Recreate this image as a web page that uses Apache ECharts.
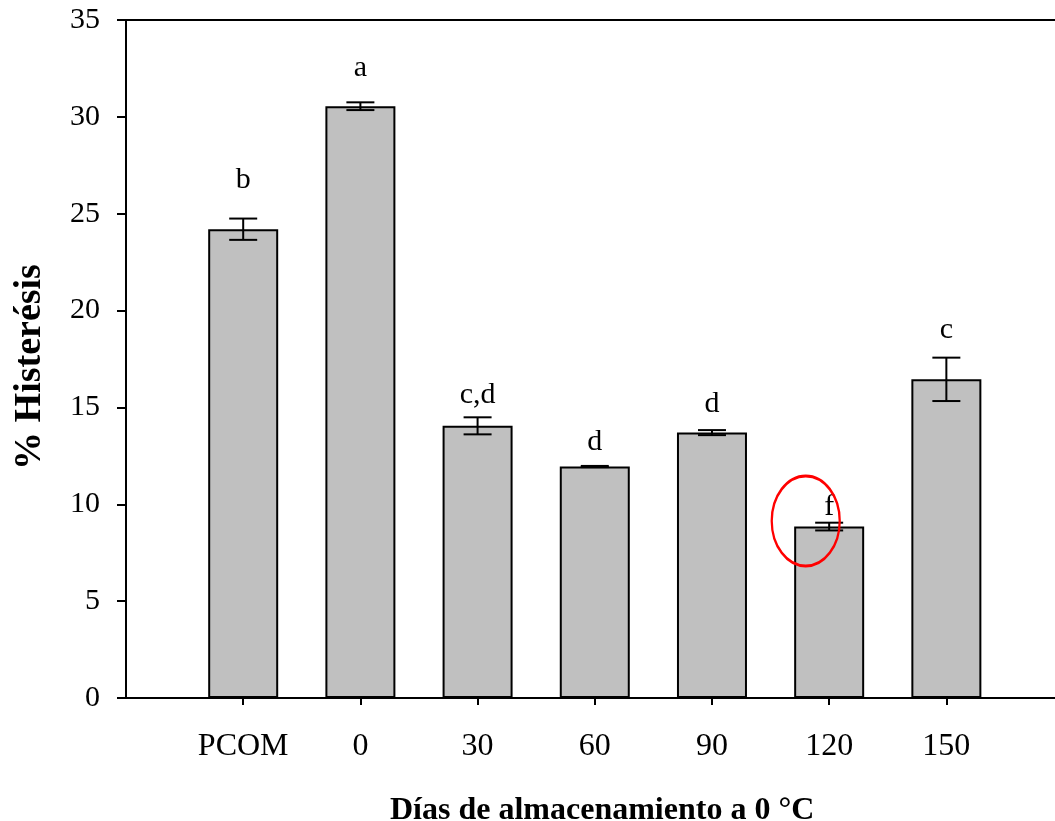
<!DOCTYPE html>
<html>
<head>
<meta charset="utf-8">
<script src="https://cdn.jsdelivr.net/npm/echarts@6/dist/echarts.min.js"></script>
<style>html,body{margin:0;padding:0;background:#fff;}#c{width:1055px;height:821px;}</style>
</head>
<body>
<div id="c"></div>
<script>
const categories = ['PCOM', '0', '30', '60', '90', '120', '150'];
const means = [24.2, 30.55, 14.05, 11.95, 13.7, 8.85, 16.45];
const errors = [0.55, 0.2, 0.44, 0.03, 0.13, 0.2, 1.12];
const letters = ['b', 'a', 'c,d', 'd', 'd', 'f', 'c'];
const letterPos = [26.3, 32.1, 15.2, 12.8, 14.75, 9.45, 18.6];
const highlightCenter = [4.8, 9.14];
const yTitle = '% Histerésis';
const xTitle = 'Días de almacenamiento a 0 °C';

const FONT = '"Liberation Serif", "Times New Roman", serif';
const idx = categories.map((c, i) => i);
const X_MIN = -1, X_MAX = 6.927;

const chart = echarts.init(document.getElementById('c'), null, {renderer: 'canvas'});
chart.setOption({
  backgroundColor: '#fff',
  animation: false,
  grid: {left: 126, top: 20, right: 0, bottom: 123},
  xAxis: [{
    type: 'value', min: X_MIN, max: X_MAX, interval: 1,
    splitLine: {show: false},
    axisLine: {show: true, onZero: false, lineStyle: {color: '#000', width: 2}},
    axisTick: {show: true, customValues: idx, length: 7, lineStyle: {color: '#000', width: 2}},
    axisLabel: {customValues: idx, formatter: v => categories[Math.round(v)], fontSize: 32, fontFamily: FONT, color: '#000', margin: 33}
  }, {
    type: 'value', position: 'top', min: X_MIN, max: X_MAX,
    splitLine: {show: false},
    axisLine: {show: true, onZero: false, lineStyle: {color: '#000', width: 2}},
    axisTick: {show: false}, axisLabel: {show: false}
  }],
  yAxis: {
    type: 'value', min: 0, max: 35, interval: 5,
    splitLine: {show: false},
    axisLine: {show: true, onZero: false, lineStyle: {color: '#000', width: 2}},
    axisTick: {show: true, length: 9, lineStyle: {color: '#000', width: 2}},
    axisLabel: {fontSize: 30, fontFamily: FONT, color: '#000', margin: 26}
  },
  graphic: [{
    type: 'text', x: 390, y: 811,
    style: {text: xTitle, font: 'bold 32px ' + FONT, fill: '#000', align: 'left', verticalAlign: 'middle'}
  }, {
    type: 'text', x: 30, y: 367, rotation: Math.PI / 2,
    style: {text: yTitle, font: 'bold 38px ' + FONT, fill: '#000', align: 'center', verticalAlign: 'middle'}
  }],
  series: [
    {
      type: 'bar', barWidth: 70,
      data: means.map((v, i) => [i, v]),
      itemStyle: {color: '#c0c0c0', borderColor: '#000', borderWidth: 2}
    },
    {
      type: 'custom', clip: false, z: 5,
      data: means.map((m, i) => [i, m - errors[i], m + errors[i]]),
      renderItem: function (params, api) {
        const lo = api.coord([api.value(0), api.value(1)]);
        const hi = api.coord([api.value(0), api.value(2)]);
        const hw = 14;
        const st = {stroke: '#000', lineWidth: 2};
        return {type: 'group', children: [
          {type: 'line', shape: {x1: lo[0], y1: lo[1], x2: hi[0], y2: hi[1]}, style: st},
          {type: 'line', shape: {x1: lo[0] - hw, y1: lo[1], x2: lo[0] + hw, y2: lo[1]}, style: st},
          {type: 'line', shape: {x1: hi[0] - hw, y1: hi[1], x2: hi[0] + hw, y2: hi[1]}, style: st}
        ]};
      }
    },
    {
      type: 'custom', clip: false, z: 6,
      data: letterPos.map((y, i) => [i, y]),
      renderItem: function (params, api) {
        const p = api.coord([api.value(0), api.value(1)]);
        return {type: 'text', x: p[0], y: p[1] + 7, style: {text: letters[params.dataIndex], font: '30px ' + FONT, fill: '#000', align: 'center', verticalAlign: 'bottom'}};
      }
    },
    {
      type: 'custom', clip: false, z: 7,
      data: [highlightCenter],
      renderItem: function (params, api) {
        const p = api.coord([api.value(0), api.value(1)]);
        return {type: 'circle', x: p[0], y: p[1], scaleX: 34 / 45, scaleY: 1, shape: {cx: 0, cy: 0, r: 45}, style: {fill: 'none', stroke: '#ff0000', lineWidth: 3}};
      }
    }
  ]
});
</script>
</body>
</html>
